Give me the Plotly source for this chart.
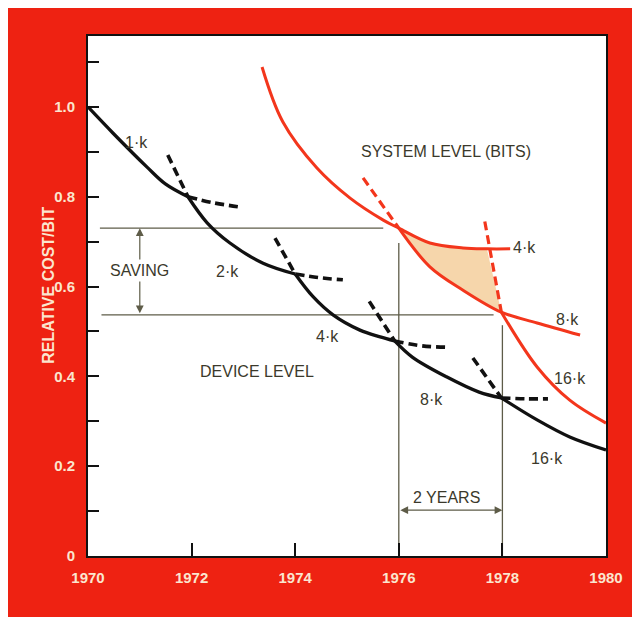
import plotly.graph_objects as go

# ---------------- data ----------------
# Device level (black), solid segments
dev_1k_x = [1970.0, 1970.48, 1971.14, 1971.5, 1971.93]
dev_1k_y = [1.0, 0.942, 0.866, 0.828, 0.80]
dev_2k_x = [1971.93, 1972.3, 1972.74, 1973.38, 1974.0]
dev_2k_y = [0.80, 0.742, 0.697, 0.652, 0.628]
dev_4k_x = [1974.0, 1974.34, 1974.73, 1975.25, 1975.64, 1975.92]
dev_4k_y = [0.628, 0.578, 0.537, 0.503, 0.488, 0.479]
dev_8k_x = [1975.92, 1976.26, 1976.92, 1977.55, 1977.98]
dev_8k_y = [0.479, 0.443, 0.399, 0.365, 0.352]
dev_16k_x = [1977.98, 1978.67, 1979.3, 1980.0]
dev_16k_y = [0.352, 0.303, 0.265, 0.236]

# Device level (black), dashed extensions
dev_dash = [
    ([1971.93, 1972.4, 1972.95], [0.80, 0.787, 0.777]),
    ([1971.54, 1971.93], [0.893, 0.80]),
    ([1974.0, 1974.45, 1974.92], [0.628, 0.62, 0.615]),
    ([1973.61, 1974.0], [0.708, 0.628]),
    ([1975.92, 1976.45, 1976.94], [0.479, 0.468, 0.465]),
    ([1975.43, 1975.92], [0.567, 0.479]),
    ([1977.98, 1978.45, 1978.88], [0.352, 0.350, 0.350]),
    ([1977.43, 1977.98], [0.441, 0.352]),
]

# System level (red)
sys_4k_x = [1973.36, 1973.76, 1974.42, 1975.06, 1975.7, 1976.0, 1976.6, 1977.24, 1977.7, 1978.15]
sys_4k_y = [1.089, 0.967, 0.864, 0.797, 0.748, 0.73, 0.697, 0.686, 0.684, 0.684]
sys_8k_x = [1976.0, 1976.6, 1977.24, 1977.98, 1978.67, 1979.5]
sys_8k_y = [0.73, 0.644, 0.592, 0.543, 0.519, 0.492]
sys_16k_x = [1977.98, 1978.67, 1979.3, 1980.0]
sys_16k_y = [0.543, 0.421, 0.347, 0.296]
sys_dash = [
    ([1975.31, 1976.0], [0.842, 0.73]),
    ([1977.66, 1977.98], [0.745, 0.543]),
]

# Saving / 2 years markers
saving_high = 0.730
saving_low = 0.537
saving_year = 1971.0
year_a = 1976
year_b = 1978
two_years_level = 0.102

x_ticks = [1970, 1972, 1974, 1976, 1978, 1980]
x_labels = ["1970", "1972", "1974", "1976", "1978", "1980"]
y_ticks = [0, 0.2, 0.4, 0.6, 0.8, 1.0]
y_labels = ["0", "0.2", "0.4", "0.6", "0.8", "1.0"]

# ---------------- styling ----------------
RED_BG = "#ee2212"
RED_LINE = "#f3361c"
BLACK = "#111111"
GUIDE = "#5e5c48"
TEXT = "#3b392b"
CREAM = "#fbe6cf"
BOLD = "Liberation Sans, Arial, sans-serif"
SANS = "Liberation Sans, Arial, sans-serif"

fig = go.Figure()

# shaded region between system 4k and 8k, bounded by the 16k dashed line
shade_x = sys_4k_x[5:9] + [sys_dash[1][0][1]] + sys_8k_x[0:3][::-1]
shade_y = sys_4k_y[5:9] + [sys_dash[1][1][1]] + sys_8k_y[0:3][::-1]
fig.add_trace(go.Scatter(x=shade_x, y=shade_y, fill="toself", fillcolor="#f6d6ab",
                         line=dict(width=0), mode="lines", hoverinfo="skip"))

# guide lines
fig.add_trace(go.Scatter(x=[1970.23, 1975.7], y=[saving_high, saving_high], mode="lines",
                         line=dict(color=GUIDE, width=1.3)))
fig.add_trace(go.Scatter(x=[1970.26, 1977.83], y=[saving_low, saving_low], mode="lines",
                         line=dict(color=GUIDE, width=1.3)))
fig.add_trace(go.Scatter(x=[year_a, year_a], y=[0, 0.697], mode="lines",
                         line=dict(color=GUIDE, width=1.3)))
fig.add_trace(go.Scatter(x=[year_b, year_b], y=[0, 0.514], mode="lines",
                         line=dict(color=GUIDE, width=1.3)))

# red system curves
for xs, ys in [(sys_4k_x, sys_4k_y), (sys_8k_x, sys_8k_y), (sys_16k_x, sys_16k_y)]:
    fig.add_trace(go.Scatter(x=xs, y=ys, mode="lines",
                             line=dict(color=RED_LINE, width=3, shape="spline", smoothing=1.0)))
for xs, ys in sys_dash:
    fig.add_trace(go.Scatter(x=xs, y=ys, mode="lines",
                             line=dict(color=RED_LINE, width=3.2, dash="9px,5px", shape="spline")))

# black device curves
for xs, ys in [(dev_1k_x, dev_1k_y), (dev_2k_x, dev_2k_y), (dev_4k_x, dev_4k_y),
               (dev_8k_x, dev_8k_y), (dev_16k_x, dev_16k_y)]:
    fig.add_trace(go.Scatter(x=xs, y=ys, mode="lines",
                             line=dict(color=BLACK, width=3.3, shape="spline", smoothing=1.0)))
for xs, ys in dev_dash:
    fig.add_trace(go.Scatter(x=xs, y=ys, mode="lines",
                             line=dict(color=BLACK, width=3.6, dash="9px,5px", shape="spline")))

annotations = []
def label(x, y, text, size=16, color=TEXT, **kw):
    annotations.append(dict(x=x, y=y, xref="x", yref="y", text=text, showarrow=False,
                            font=dict(family=SANS, size=size, color=color), **kw))

label(1970.94, 0.92, "1·k")
label(1972.7, 0.633, "2·k")
label(1974.62, 0.489, "4·k")
label(1976.63, 0.349, "8·k")
label(1978.86, 0.218, "16·k")
label(1978.42, 0.687, "4·k")
label(1979.25, 0.526, "8·k")
label(1979.3, 0.396, "16·k")
label(1976.92, 0.90, "SYSTEM LEVEL (BITS)")
label(1973.27, 0.411, "DEVICE LEVEL")
label(1976.93, 0.131, "2 YEARS")

# SAVING double arrow
annotations.append(dict(x=saving_year, y=saving_high, ax=saving_year, ay=saving_low,
                        xref="x", yref="y", axref="x", ayref="y", text="", showarrow=True,
                        arrowside="end+start", arrowhead=2, arrowsize=1.3, arrowwidth=1.2,
                        arrowcolor=GUIDE))
annotations.append(dict(x=saving_year, y=0.635, xref="x", yref="y", text="SAVING",
                        showarrow=False, bgcolor="white", borderpad=2,
                        font=dict(family=SANS, size=16, color=TEXT)))
# 2 YEARS double arrow
annotations.append(dict(x=year_b, y=two_years_level, ax=year_a, ay=two_years_level,
                        xref="x", yref="y", axref="x", ayref="y", text="", showarrow=True,
                        arrowside="end+start", arrowhead=2, arrowsize=1.3, arrowwidth=1.2,
                        arrowcolor=GUIDE))
# y axis title
annotations.append(dict(x=-0.077, y=0.52, xref="paper", yref="paper", text="RELATIVE COST/BIT",
                        textangle=-90, showarrow=False, xanchor="center", yanchor="middle",
                        font=dict(family=BOLD, size=16, color=CREAM, weight="bold")))

fig.update_layout(
    width=640, height=617,
    margin=dict(l=80, r=42, t=28, b=69),
    paper_bgcolor=RED_BG, plot_bgcolor="white",
    showlegend=False,
    annotations=annotations,
    xaxis=dict(range=[1970, 1980], tickvals=x_ticks, ticktext=x_labels,
               ticks="inside", ticklen=13, tickwidth=1.5, tickcolor=BLACK,
               showgrid=False, zeroline=False, showline=True, mirror=True,
               linecolor=BLACK, linewidth=2, ticklabelstandoff=7,
               tickfont=dict(family=BOLD, size=15, color=CREAM, weight="bold")),
    yaxis=dict(range=[0, 1.158], tickvals=y_ticks, ticktext=y_labels,
               ticks="inside", ticklen=11, tickwidth=1.5, tickcolor=BLACK,
               minor=dict(dtick=0.1, tick0=0, ticks="inside", ticklen=11, tickwidth=1.5,
                          tickcolor=BLACK, showgrid=False),
               showgrid=False, zeroline=False, showline=True, mirror=True,
               linecolor=BLACK, linewidth=2, ticklabelstandoff=8,
               tickfont=dict(family=BOLD, size=15, color=CREAM, weight="bold")),
)

fig.write_html("out.html")
